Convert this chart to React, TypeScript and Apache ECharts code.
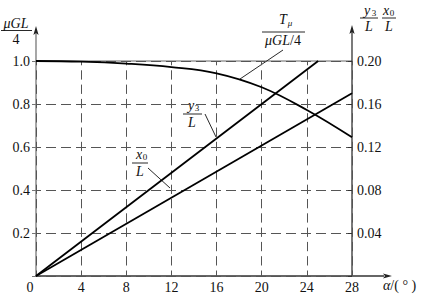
import React, { useEffect, useRef } from "react";
import * as echarts from "echarts";

const alphaMin = 0;
const alphaMax = 28;
const alphaStep = 4;
const leftMax = 1.0;
const leftStep = 0.2;
const rightMax = 0.2;
const rightStep = 0.04;

// T_mu / (mu G L / 4)  (left axis)
const tAlpha = [0, 4, 8, 12, 16, 20, 24, 28];
const tValues = [1.0, 0.997, 0.988, 0.972, 0.943, 0.878, 0.772, 0.645];
// y3 / L (right axis)
const y3Alpha = [0, 25];
const y3Values = [0, 0.2];
// x0 / L (right axis)
const x0Alpha = [0, 28];
const x0Values = [0, 0.17];

const FONT = "Liberation Serif";
const W = 431;
const H = 297;
const G = { left: 36, top: 61, right: 352, bottom: 276 };

const txt = (x: number, y: number, text: string, size = 13, italic = false, align = "center", rich?: any) => ({
  type: "text",
  x,
  y,
  silent: true,
  style: {
    text,
    fill: "#111",
    fontSize: size,
    fontFamily: FONT,
    fontStyle: italic ? "italic" : "normal",
    align,
    textAlign: align,
    verticalAlign: "middle",
    textVerticalAlign: "middle",
    rich,
  },
});

const ln = (x1: number, y1: number, x2: number, y2: number, stroke = "#111", lineWidth = 1) => ({
  type: "line",
  silent: true,
  shape: { x1, y1, x2, y2 },
  style: { stroke, lineWidth },
});

const arrow = (tipX: number, tipY: number, dir: "up" | "right", fill: string) => {
  const L = 9;
  const hw = 2.6;
  const pts =
    dir === "up"
      ? [[tipX, tipY], [tipX - hw, tipY + L], [tipX, tipY + L - 2], [tipX + hw, tipY + L]]
      : [[tipX, tipY], [tipX - L, tipY - hw], [tipX - L + 2, tipY], [tipX - L, tipY + hw]];
  return { type: "polygon", silent: true, shape: { points: pts }, style: { fill } };
};

export default function App() {
  const ref = useRef<HTMLDivElement>(null);
  useEffect(() => {
    if (!ref.current) return;
    const chart = echarts.init(ref.current, undefined, { renderer: "svg" });
    const ital = { fontStyle: "italic", fontFamily: FONT, fontSize: 14, color: "#111" };
    chart.setOption({
      animation: false,
      backgroundColor: "#fff",
      textStyle: { fontFamily: FONT },
      grid: {
        left: G.left,
        top: G.top,
        width: G.right - G.left,
        height: G.bottom - G.top,
        containLabel: false,
      },
      xAxis: {
        type: "value",
        min: alphaMin,
        max: alphaMax,
        interval: alphaStep,
        axisLine: { show: false },
        axisTick: { show: false },
        axisLabel: {
          color: "#111",
          fontFamily: FONT,
          fontSize: 14,
          margin: 4,
          formatter: (v: number) => (v === 0 ? "{z|0}" : String(v)),
          rich: { z: { fontFamily: FONT, fontSize: 14, color: "#111", padding: [0, 12, 0, 0] } },
        },
        splitLine: {
          show: true,
          lineStyle: { color: "#555", width: 1, type: [9.3, 5], dashOffset: 4.65 },
        },
      },
      yAxis: [
        {
          type: "value",
          position: "left",
          min: 0,
          max: leftMax,
          interval: leftStep,
          axisLine: { show: false },
          axisTick: { show: true, inside: false, length: 4, lineStyle: { color: "#777" } },
          axisLabel: {
            color: "#111",
            fontFamily: FONT,
            fontSize: 14,
            margin: 6,
            formatter: (v: number) => (v === 0 ? "" : v.toFixed(1)),
          },
          splitLine: {
            show: true,
            lineStyle: { color: "#555", width: 1, type: [10, 5], dashOffset: 5 },
          },
        },
        {
          type: "value",
          position: "right",
          min: 0,
          max: rightMax,
          interval: rightStep,
          axisLine: { show: false },
          axisTick: { show: true, inside: true, length: 4, lineStyle: { color: "#333" } },
          axisLabel: {
            color: "#111",
            fontFamily: FONT,
            fontSize: 14,
            margin: 5,
            formatter: (v: number) => (v === 0 ? "" : v.toFixed(2)),
          },
          splitLine: { show: false },
        },
      ],
      series: [
        {
          type: "line",
          yAxisIndex: 0,
          smooth: 0.4,
          symbol: "none",
          lineStyle: { color: "#000", width: 1.8 },
          data: tAlpha.map((a, i) => [a, tValues[i]]),
          z: 5,
        },
        {
          type: "line",
          yAxisIndex: 1,
          symbol: "none",
          lineStyle: { color: "#000", width: 1.8 },
          data: y3Alpha.map((a, i) => [a, y3Values[i]]),
          z: 5,
        },
        {
          type: "line",
          yAxisIndex: 1,
          symbol: "none",
          lineStyle: { color: "#000", width: 1.8 },
          data: x0Alpha.map((a, i) => [a, x0Values[i]]),
          z: 5,
        },
      ],
      graphic: [
        // top solid line at 1.0
        ln(G.left, G.top, G.right, G.top, "#999", 1.6),
        // axes
        ln(G.left, G.bottom, G.left, 33, "#777", 1.3),
        arrow(G.left, 26, "up", "#222"),
        ln(G.right, G.bottom, G.right, 32, "#222", 1.2),
        arrow(G.right, 25, "up", "#222"),
        ln(G.left, G.bottom, 384, G.bottom, "#333", 1.3),
        arrow(392, G.bottom, "right", "#222"),
        // left axis name  muGL/4
        txt(16, 23, "μGL", 14, true),
        ln(1, 30.5, 32, 30.5, "#111", 0.9),
        txt(16, 39, "4", 14, false),
        // right axis name y3/L  x0/L
        txt(367, 10, "y", 14, true),
        txt(374, 13, "3", 9, false),
        ln(360, 18, 378, 18, "#111", 0.9),
        txt(369, 26, "L", 14, true),
        txt(386, 10, "x", 14, true),
        txt(392, 13, "0", 9, false),
        ln(382, 18, 396, 18, "#111", 0.9),
        txt(389, 26, "L", 14, true),
        // x axis name
        txt(383, 285, "{i|α}/( ° )", 14, false, "left", { i: ital }),
        // T_mu annotation
        txt(283, 19, "T", 14, true),
        txt(290, 23, "μ", 9, true),
        ln(262, 32, 305, 32, "#111", 0.9),
        txt(283, 40, "{i|μGL}/4", 14, false, "center", { i: ital }),
        ln(283, 50, 240, 79, "#111", 0.9),
        // y3/L annotation
        txt(191, 105, "y", 14, true),
        txt(197, 108, "3", 9, false),
        ln(183, 114, 202, 114, "#111", 0.9),
        txt(192, 122, "L", 14, true),
        ln(205, 114, 216, 137, "#111", 0.9),
        // x0/L annotation
        txt(139, 154, "x", 14, true),
        txt(145, 157, "0", 9, false),
        ln(132, 163, 148, 163, "#111", 0.9),
        txt(140, 171, "L", 14, true),
        ln(148, 168, 170, 188, "#111", 0.9),
      ],
    });
    return () => chart.dispose();
  }, []);
  return (
    <div
      ref={ref}
      style={{ position: "fixed", left: 0, top: 0, width: W, height: H, background: "#fff" }}
    />
  );
}
